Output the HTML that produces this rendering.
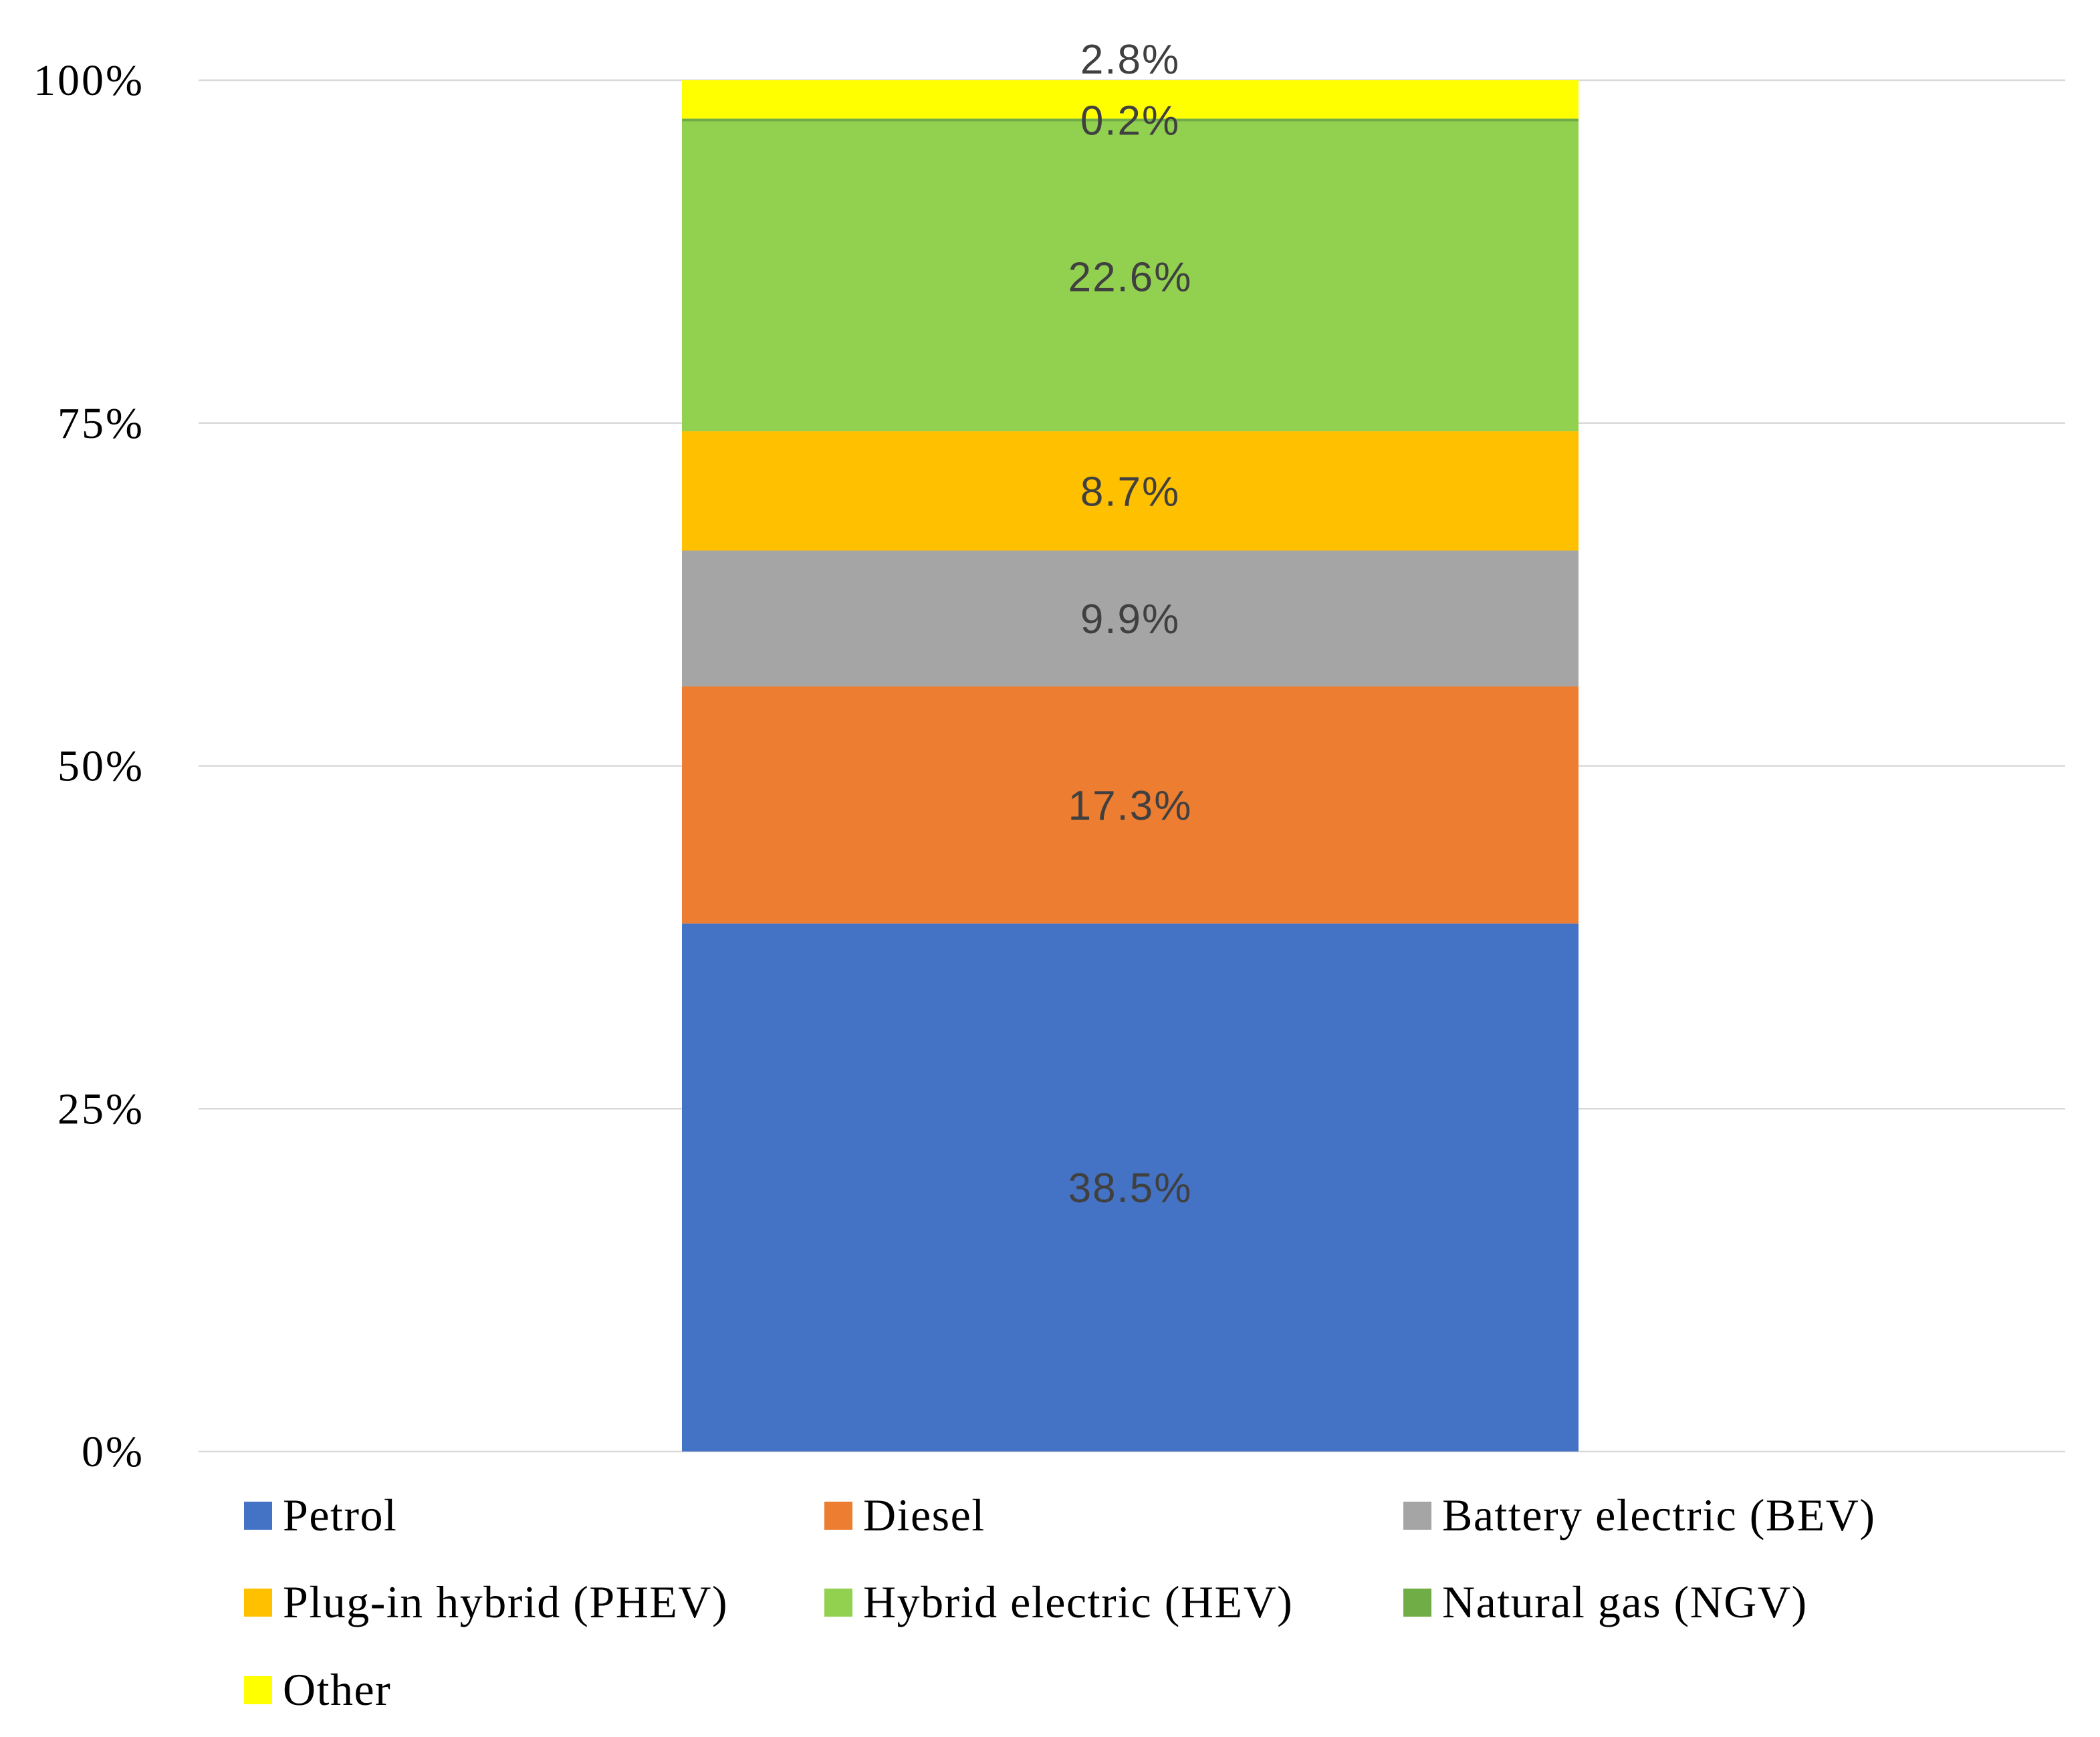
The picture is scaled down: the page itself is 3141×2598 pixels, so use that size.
<!DOCTYPE html>
<html><head><meta charset="utf-8"><style>
html,body{margin:0;padding:0;background:#fff;}
svg{display:block;}
</style></head><body>
<svg id="chart" width="3141" height="2598" viewBox="0 0 3141 2598" xmlns="http://www.w3.org/2000/svg">
<g id="grid"></g>
<g id="yaxis"></g>
<g id="bars"></g>
<g id="labels"></g>
<g id="legend"></g>
</svg>
<script>
const categories = ["Petrol","Diesel","Battery electric (BEV)","Plug-in hybrid (PHEV)","Hybrid electric (HEV)","Natural gas (NGV)","Other"];
const values = [38.5,17.3,9.9,8.7,22.6,0.2,2.8];
const valueLabels = ["38.5%","17.3%","9.9%","8.7%","22.6%","0.2%","2.8%"];
const ticks = [0,25,50,75,100];
const tickLabels = ["0%","25%","50%","75%","100%"];
const colors = ["#4472C4","#ED7D31","#A5A5A5","#FFC000","#92D050","#70AD47","#FFFF00"];

const NS="http://www.w3.org/2000/svg";
const y0=2171, y1=120, plotL=297, plotR=3089, barL=1020, barR=2361;
const yScale = v => y0 - (v/100)*(y0-y1);
function mk(tag, attrs, parent){const e=document.createElementNS(NS,tag);for(const k in attrs)e.setAttribute(k,attrs[k]);parent.appendChild(e);return e;}

const grid=document.getElementById('grid'), yax=document.getElementById('yaxis');
ticks.forEach((t,i)=>{
  const l=mk('line',{x1:plotL,x2:plotR,y1:yScale(t),y2:yScale(t),stroke:'#D9D9D9','stroke-width':2.5},grid);
  
  
  const tx=mk('text',{x:216,y:yScale(t)+22,'text-anchor':'end','font-family':'Liberation Serif, serif','font-size':66,'letter-spacing':3,fill:'#000'},yax);
  tx.textContent=tickLabels[i];
  
  
});

const bars=document.getElementById('bars'), labs=document.getElementById('labels');
let cum=0;
values.forEach((v,i)=>{
  const top=yScale(cum+v), bot=yScale(cum);
  const r=mk('rect',{x:barL,y:top,width:barR-barL,height:bot-top,fill:colors[i]},bars);
  
  
  let cy=(top+bot)/2;
  if(i===values.length-1) cy=top-32;
  const t=mk('text',{x:(barL+barR)/2,y:cy+22,'text-anchor':'middle','font-family':'Liberation Sans, sans-serif','font-size':62,'letter-spacing':2,fill:'#404040'},labs);
  t.textContent=valueLabels[i];
  
  
  cum+=v;
});

const leg=document.getElementById('legend');
const colX=[365,1233,2099], rowY=[2267,2397,2528];
categories.forEach((c,i)=>{
  const x=colX[i%3], y=rowY[Math.floor(i/3)];
  const g=mk('g',{},leg);
  
  
  mk('rect',{x:x,y:y-21,width:42,height:42,fill:colors[i]},g);
  const t=mk('text',{x:x+58,y:y+22,'font-family':'Liberation Serif, serif','font-size':68,'letter-spacing':1.5,fill:'#000'},g);
  t.textContent=c;
});
</script>
</body></html>
